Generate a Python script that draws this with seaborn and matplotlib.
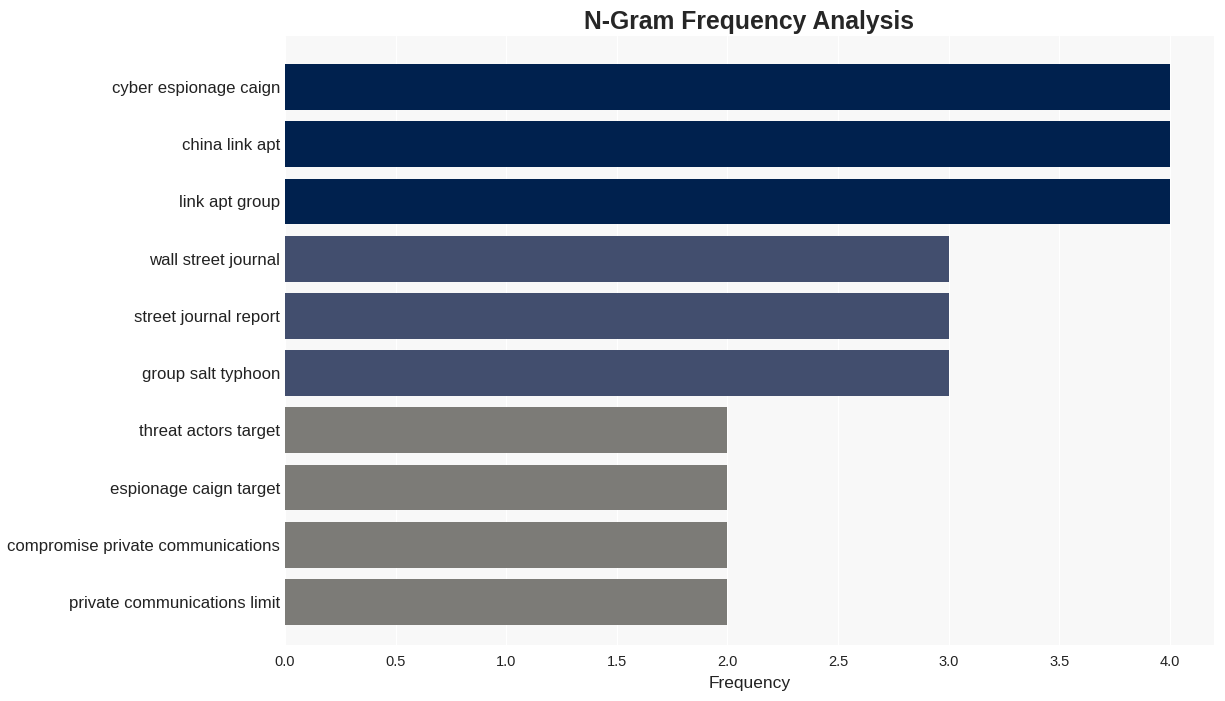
import pandas as pd
import matplotlib.pyplot as plt
import seaborn as sns

# n-gram counts
ngrams = ["cyber espionage caign", "china link apt", "link apt group",
          "wall street journal", "street journal report", "group salt typhoon",
          "threat actors target", "espionage caign target",
          "compromise private communications", "private communications limit"]
counts = [4, 4, 4, 3, 3, 3, 2, 2, 2, 2]
bar_colors = ["#00214e"] * 3 + ["#424e6e"] * 3 + ["#7c7b77"] * 4

data = pd.DataFrame({"ngram": ngrams, "count": counts})

sns.set_style("darkgrid", {"axes.facecolor": "#f8f8f8", "grid.color": "white"})
plt.rcParams['font.family'] = ['Liberation Sans', 'DejaVu Sans']

fig, ax = plt.subplots(figsize=(12.25, 7.01), dpi=100)
sns.barplot(data=data, x="count", y="ngram", hue="ngram", palette=bar_colors,
            legend=False, width=0.8, saturation=1, linewidth=0, ax=ax)

ax.set_xlim(0, 4.2)
ax.set_ylim(9.75, -0.89)
ax.set_xticks([0, 0.5, 1, 1.5, 2, 2.5, 3, 3.5, 4])
ax.tick_params(axis="x", labelsize=10.5, colors="#222222", pad=4)
ax.tick_params(axis="y", labelsize=12.1, colors="#222222", pad=0)
ax.set_xlabel("Frequency", fontsize=12.5, color="#222222", labelpad=5)
ax.set_ylabel("")
ax.set_title("N-Gram Frequency Analysis", fontsize=17.8, fontweight="bold", pad=5)
for s in ax.spines.values():
    s.set_visible(False)

plt.subplots_adjust(left=285/1225, right=1214/1225, top=1-36/701, bottom=1-645/701)
plt.savefig("out.png", dpi=100)
